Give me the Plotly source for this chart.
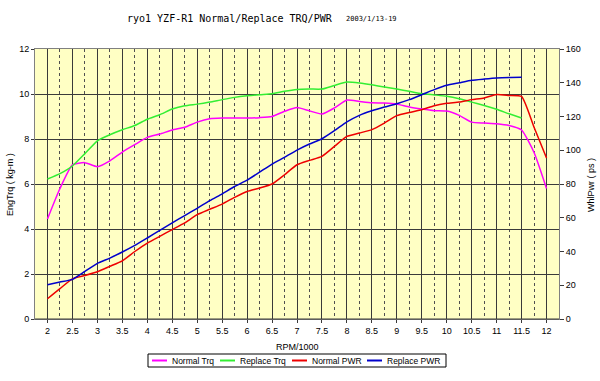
import plotly.graph_objects as go

# ---------------- data ----------------
rpm = [2, 2.25, 2.5, 2.75, 3, 3.25, 3.5, 3.75, 4, 4.25, 4.5, 4.75, 5, 5.25, 5.5, 5.75,
       6, 6.25, 6.5, 6.75, 7, 7.25, 7.5, 7.75, 8, 8.25, 8.5, 8.75, 9, 9.25, 9.5, 9.75,
       10, 10.25, 10.5, 10.75, 11, 11.25, 11.5, 11.75, 12]

normal_trq = [4.45, 5.8, 6.85, 6.95, 6.77, 7.03, 7.42, 7.75, 8.07, 8.22, 8.4, 8.52, 8.75, 8.9, 8.93, 8.93,
              8.93, 8.95, 9.0, 9.23, 9.4, 9.25, 9.11, 9.38, 9.73, 9.67, 9.61, 9.6, 9.55, 9.42, 9.33, 9.26,
              9.24, 9.05, 8.75, 8.71, 8.68, 8.6, 8.4, 7.4, 5.8]

replace_trq = [6.22, 6.46, 6.8, 7.35, 7.92, 8.19, 8.41, 8.6, 8.88, 9.08, 9.33, 9.48, 9.55, 9.64, 9.75, 9.85,
               9.92, 9.97, 10.01, 10.12, 10.2, 10.22, 10.22, 10.38, 10.53, 10.49, 10.41, 10.31, 10.22, 10.12, 10.02, 9.96,
               9.9, 9.79, 9.64, 9.49, 9.32, 9.12, 8.93, None, None]

normal_pwr = [12, 18, 23.8, 25.8, 28, 31.2, 34.5, 40, 45, 49, 53, 57, 61.8, 65, 68.1, 72.1,
              75.6, 77.6, 80, 85.5, 91.4, 94, 96.4, 102.3, 108.2, 110.2, 112.2, 116.1, 120.5, 122.4, 124, 126.4,
              127.8, 128.6, 130, 131, 133, 132.5, 131.9, 113.6, 95.4]

replace_pwr = [20.3, 21.9, 23.5, 28.2, 33, 36.1, 39.7, 43.6, 48, 52.5, 57, 61.3, 65.6, 70.1, 74.2, 78.5,
               82.3, 87, 91.8, 95.8, 100.1, 103.7, 106.8, 111.6, 116.8, 120.7, 123.4, 125.6, 127.6, 130, 132.9, 135.9,
               138.5, 140, 141.5, 142.2, 142.8, 143.1, 143.2, None, None]

x_tickvals = [2, 2.5, 3, 3.5, 4, 4.5, 5, 5.5, 6, 6.5, 7, 7.5, 8, 8.5, 9, 9.5, 10, 10.5, 11, 11.5, 12]
x_ticktext = ["2", "2.5", "3", "3.5", "4", "4.5", "5", "5.5", "6", "6.5", "7", "7.5", "8", "8.5",
              "9", "9.5", "10", "10.5", "11", "11.5", "12"]
x_minorvals = [2.25, 2.75, 3.25, 3.75, 4.25, 4.75, 5.25, 5.75, 6.25, 6.75, 7.25, 7.75, 8.25, 8.75,
               9.25, 9.75, 10.25, 10.75, 11.25, 11.75]

series_names = ["Normal Trq", "Replace Trq", "Normal PWR", "Replace PWR"]
series_colors = ["#FF00FF", "#33EE33", "#EE0000", "#0000CC"]

title_text = "ryo1 YZF-R1 Normal/Replace TRQ/PWR"
date_text = "2003/1/13-19"
left_title = "EngTrq ( kg-m )"
right_title = "WhlPwr ( ps )"
x_title = "RPM/1000"

# ---------------- figure ----------------
W, H = 600, 381
ML, MR, MT, MB = 35, 41, 49, 62
PW, PH = W - ML - MR, H - MT - MB


def px(sx):
    return (sx - ML) / PW


def py(sy):
    return (H - MB - sy) / PH


fig = go.Figure()
series = [(normal_trq, "y"), (replace_trq, "y"), (normal_pwr, "y2"), (replace_pwr, "y2")]
for (vals, ax), name, col in zip(series, series_names, series_colors):
    fig.add_trace(go.Scatter(x=rpm, y=vals, name=name, yaxis=ax, mode="lines",
                             line=dict(color=col, width=1.5, shape="spline", smoothing=0.5),
                             showlegend=False))

font = "Liberation Sans, Arial, sans-serif"
fig.update_layout(
    width=W, height=H,
    margin=dict(l=ML, r=MR, t=MT, b=MB, autoexpand=False),
    paper_bgcolor="white",
    plot_bgcolor="#FFFFC4",
    font=dict(family=font, size=9, color="black"),
    xaxis=dict(range=[1.75, 12.25], tickmode="array", tickvals=x_tickvals, ticktext=x_ticktext,
               showgrid=True, gridcolor="#3a3a3a", gridwidth=1,
               ticks="outside", ticklen=3, tickcolor="#3a3a3a",
               showline=True, mirror=True, linecolor="#808080", linewidth=1,
               zeroline=False, automargin=False,
               minor=dict(tickvals=x_minorvals, showgrid=True, griddash="dot",
                          gridcolor="#505050", gridwidth=1, ticks="")),
    yaxis=dict(range=[0, 12], tickvals=[0, 2, 4, 6, 8, 10, 12],
               showgrid=True, gridcolor="#3a3a3a", gridwidth=1,
               ticks="outside", ticklen=3, tickcolor="#3a3a3a",
               showline=True, linecolor="#808080", linewidth=1,
               zeroline=False, automargin=False),
    yaxis2=dict(range=[0, 160], tickvals=[0, 20, 40, 60, 80, 100, 120, 140, 160],
                overlaying="y", side="right", showgrid=False,
                ticks="outside", ticklen=4, tickcolor="#3a3a3a",
                showline=True, linecolor="#808080", linewidth=1,
                zeroline=False, automargin=False),
)

# bottom border as dark line (0 gridline)
fig.add_shape(type="line", xref="paper", yref="paper", x0=0, x1=1, y0=0, y1=0,
              line=dict(color="#3a3a3a", width=1))

ann = []
ann.append(dict(text=title_text, x=px(125), y=py(18.5), xref="paper", yref="paper",
                xanchor="left", yanchor="middle", showarrow=False,
                font=dict(family="DejaVu Sans Mono, monospace", size=10, color="black")))
ann.append(dict(text=date_text, x=px(344), y=py(18.5), xref="paper", yref="paper",
                xanchor="left", yanchor="middle", showarrow=False,
                font=dict(family="DejaVu Sans Mono, monospace", size=7, color="black")))
ann.append(dict(text=left_title, x=px(10), y=py(185), xref="paper", yref="paper",
                xanchor="center", yanchor="middle", textangle=-90, showarrow=False,
                font=dict(family=font, size=9)))
ann.append(dict(text=right_title, x=px(591), y=py(185), xref="paper", yref="paper",
                xanchor="center", yanchor="middle", textangle=-90, showarrow=False,
                font=dict(family=font, size=9)))
ann.append(dict(text=x_title, x=px(297), y=py(347), xref="paper", yref="paper",
                xanchor="center", yanchor="middle", showarrow=False,
                font=dict(family=font, size=9)))

# manual legend (box + line samples + labels)
fig.add_shape(type="rect", xref="paper", yref="paper", x0=px(148), x1=px(446), y0=py(367), y1=py(354),
              line=dict(color="black", width=1), fillcolor="white")
leg_line_x = [152, 220, 292, 367]
leg_text_x = [170, 238, 310, 385]
leg_y = 360.5
for name, col, lx, tx in zip(series_names, series_colors, leg_line_x, leg_text_x):
    fig.add_shape(type="line", xref="paper", yref="paper", x0=px(lx), x1=px(lx + 15),
                  y0=py(leg_y), y1=py(leg_y), line=dict(color=col, width=2))
    ann.append(dict(text=name, x=px(tx), y=py(leg_y), xref="paper", yref="paper",
                    xanchor="left", yanchor="middle", showarrow=False,
                    font=dict(family=font, size=8.5)))

fig.update_layout(annotations=ann)
fig.write_html("out.html", config={"displayModeBar": False},
               post_script="document.body.style.margin='0px';")
